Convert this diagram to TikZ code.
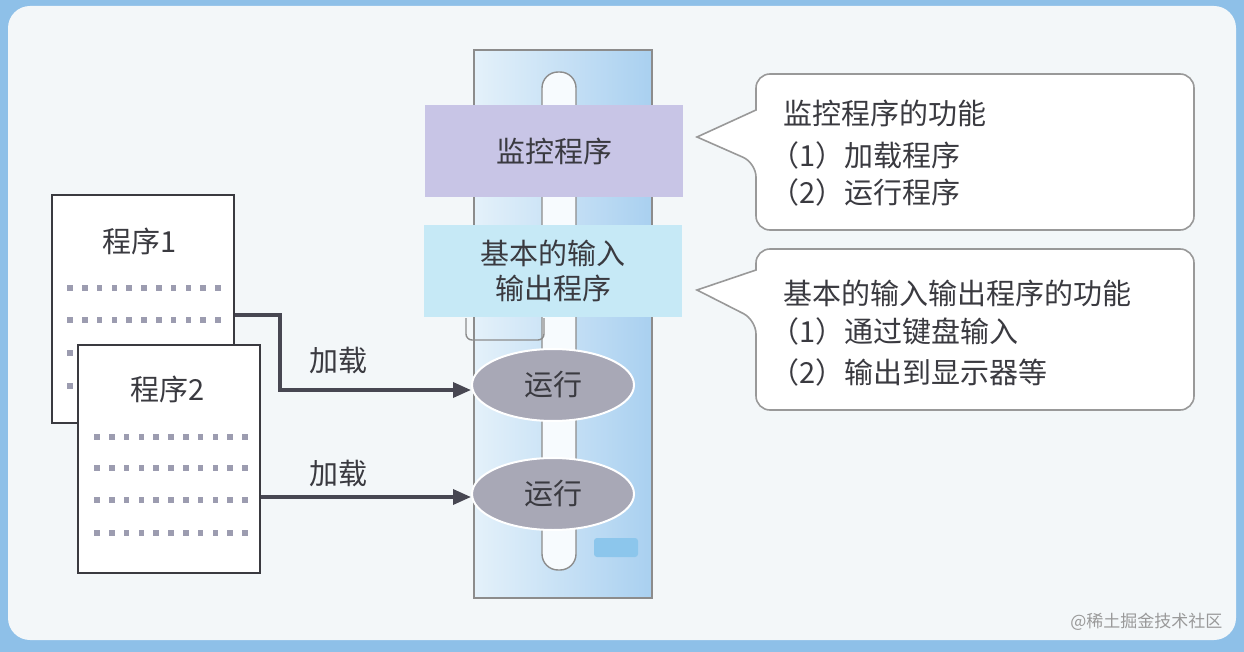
\documentclass[tikz,border=0pt]{standalone}
\usepackage{fontspec}
\setmainfont{Noto Sans CJK SC}
\usetikzlibrary{shapes.geometric,arrows.meta}
\definecolor{frameblue}{HTML}{8EC0E8}
\definecolor{panel}{HTML}{F3F7F9}
\definecolor{colL}{HTML}{E4F1FA}
\definecolor{colR}{HTML}{A9D0F0}
\definecolor{lav}{HTML}{C8C5E6}
\definecolor{cyanbox}{HTML}{C6E9F6}
\definecolor{ellg}{HTML}{A8A8B6}
\definecolor{txt}{HTML}{3A3A40}
\definecolor{arr}{HTML}{474752}
\definecolor{dotc}{HTML}{9C9CB0}
\definecolor{smallbox}{HTML}{8CC6EC}
\tikzset{
  x=1pt,y=-1pt,
  every node/.style={text=txt,font=\fontsize{29}{35}\selectfont},
  doc/.style={draw=txt,line width=1.6pt,fill=white},
  band/.style={draw=none,minimum width=258pt,minimum height=92pt,inner sep=0pt,align=center},
  run/.style={ellipse,draw=white,line width=2pt,fill=ellg,minimum width=162pt,minimum height=72pt,inner sep=0pt},
  loadarrow/.style={draw=arr,line width=3.4pt,-{Triangle[length=18pt,width=15pt]}},
  callout/.style={draw=black!40,line width=1.6pt,fill=white},
  lbl/.style={anchor=west,align=left,inner sep=0pt}
}
\begin{document}
\begin{tikzpicture}
\useasboundingbox (0,0) rectangle (1244,652);
\fill[frameblue] (0,0) rectangle (1244,652);
\fill[panel,rounded corners=22] (8,6) rectangle (1236,640);
% column
\shade[left color=colL,right color=colR,draw=black!45,line width=1.4pt] (474,50) rectangle (652,598);
\draw[black!45,line width=1.4pt,fill=white!70!colL,rounded corners=16] (542,72) rectangle (576,570);
\draw[black!45,line width=1.4pt,rounded corners=6] (466,318) -- (466,340) -- (544,340) -- (544,318);
\fill[smallbox,rounded corners=3] (594,538) rectangle (638,557);
% bands
\node[band,fill=lav] (mon) at (554,151) {监控程序};
\node[band,fill=cyanbox] (bio) at (553,271) {基本的输入\\输出程序};
\node[run] (r1) at (553,385) {运行};
\node[run] (r2) at (553,494) {运行};
% documents
\node[doc,minimum width=182pt,minimum height=228pt,inner sep=0pt] (p1) at (143,309) {};
\node at (140,241) (t1) {程序1};
\foreach \yy in {288,320,353,386}{\foreach \i in {0,...,10}{\fill[dotc] (70+\i*14.8,\yy) ++(-2.8,-2.8) rectangle ++(5.6,5.6);}}
\node[doc,minimum width=182pt,minimum height=228pt,inner sep=0pt] (p2) at (169,459) {};
\node at (168,389) (t2) {程序2};
\foreach \yy in {437,468,500,533}{\foreach \i in {0,...,10}{\fill[dotc] (97+\i*14.8,\yy) ++(-2.8,-2.8) rectangle ++(5.6,5.6);}}
% arrows
\coordinate (b1) at (280,315);
\coordinate (b2) at (280,390);
\draw[loadarrow] (p1.east |- b1) -- (b1) -- (b2) -- (r1.west |- b2);
\node (l1) at (338,360) {加载};
\draw[loadarrow] (p2.east |- 0,497) -- (r2.west |- 0,497);
\node (l2) at (338,473) {加载};
% callouts
\path[callout] (697,137) -- (756,110) [rounded corners=14] -- (756,74) -- (1194,74) -- (1194,230) -- (756,230) -- (756,163) [sharp corners] -- cycle;
\node[lbl] (c1) at (783,113) {监控程序的功能};
\node[lbl] (c2) at (770,155) {（1）加载程序};
\node[lbl] (c3) at (770,192) {（2）运行程序};
\path[callout] (697,290) -- (756,270) [rounded corners=14] -- (756,249) -- (1194,249) -- (1194,410) -- (756,410) -- (756,320) [sharp corners] -- cycle;
\node[lbl] (d1) at (783,293) {基本的输入输出程序的功能};
\node[lbl] (d2) at (770,331) {（1）通过键盘输入};
\node[lbl] (d3) at (770,372) {（2）输出到显示器等};
\node[anchor=east,text=black!40,font=\fontsize{17}{20}\selectfont] (wm) at (1226,622) {@稀土掘金技术社区};
\end{tikzpicture}
\end{document}
